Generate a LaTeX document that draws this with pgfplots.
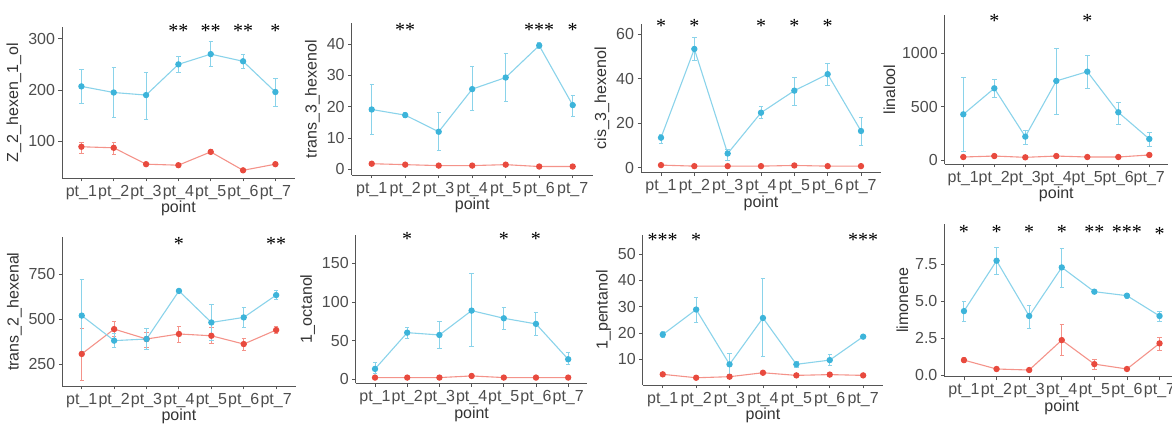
\documentclass[border=0pt]{standalone}
\usepackage{fontspec}
\setmainfont{Liberation Sans}
\newfontfamily\starfont{Liberation Serif}
\usepackage{pgfplots}
\pgfplotsset{compat=1.18}

\definecolor{bline}{HTML}{8AD3EA}
\definecolor{bmark}{HTML}{3DB4DA}
\definecolor{rline}{HTML}{F4938A}
\definecolor{rmark}{HTML}{E84A3E}
\definecolor{axgray}{HTML}{555555}
\definecolor{txtgray}{HTML}{4D4D4D}
\definecolor{ttl}{HTML}{333333}

\pgfplotsset{
  panel/.style={
    scale only axis, anchor=south west, clip=false,
    xmin=0.4, xmax=7.6,
    axis x line*=bottom, axis y line*=left,
    axis line style={axgray, line width=0.9pt},
    tick align=outside, major tick length=3.5pt,
    tick style={axgray, line width=0.9pt},
    xtick={1,...,7},
    xticklabels={pt\_1,pt\_2,pt\_3,pt\_4,pt\_5,pt\_6,pt\_7},
    ticklabel style={font=\fontsize{16}{16}\selectfont, text=txtgray},
    xticklabel style={inner xsep=0pt},
    label style={font=\fontsize{16}{16}\selectfont, text=ttl},
    xlabel={point},
    xlabel style={yshift=5pt},
    /pgf/number format/assume math mode=true,
    /pgf/number format/1000 sep={},
    scaled y ticks=false,
  },
  blue/.style={color=bline, line width=1.1pt, mark=*, mark size=2.6pt,
    mark options={fill=bmark, draw=bmark},
    error bars/.cd, y dir=both, y explicit,
    error bar style={bline, line width=1pt},
    error mark options={bline, line width=1pt, mark size=2.2pt, rotate=90}},
  red/.style={color=rline, line width=1.1pt, mark=*, mark size=2.6pt,
    mark options={fill=rmark, draw=rmark},
    error bars/.cd, y dir=both, y explicit,
    error bar style={rline, line width=1pt},
    error mark options={rline, line width=1pt, mark size=2.2pt, rotate=90}},
  stars/.style={draw=none, mark=none, nodes near coords,
    point meta=explicit symbolic,
    nodes near coords style={anchor=center, inner sep=0pt, yshift=-3pt,
      font=\starfont\fontsize{20}{20}\selectfont, text=black}},
}

\begin{document}
\begin{tikzpicture}
\useasboundingbox (0,0) rectangle (1172pt,428pt);

% ---- row 1 ----
\begin{axis}[panel, at={(62pt,250pt)}, width=232.8pt, height=151pt,
  ymin=28, ymax=323, ytick={100,200,300}, ylabel={Z\_2\_hexen\_1\_ol}]
\addplot[red] table[y error plus=ep, y error minus=em] {
x y ep em
1 89 8 14
2 87 11 13
3 55 2 2
4 53 2 2
5 79 4 4
6 43 2 2
7 55 2 2
};
\addplot[blue] table[y error plus=ep, y error minus=em] {
x y ep em
1 207 32 33
2 195 49 49
3 190 45 48
4 250 16 16
5 270 24 25
6 256 14 14
7 196 26 28
};
\addplot[stars] coordinates {(4,321) [**] (5,321) [**] (6,321) [**] (7,321) [*]};
\end{axis}

\begin{axis}[panel, at={(351.6pt,253pt)}, width=241.2pt, height=151.7pt,
  ymin=-1.8, ymax=46.6, ytick={0,10,20,30,40}, ylabel={trans\_3\_hexenol}]
\addplot[red] table[y error plus=ep, y error minus=em] {
x y ep em
1 1.8 0.3 0.3
2 1.5 0.3 0.3
3 1.2 0.3 0.3
4 1.2 0.3 0.3
5 1.5 0.3 0.3
6 0.9 0.3 0.3
7 0.9 0.3 0.3
};
\addplot[blue] table[y error plus=ep, y error minus=em] {
x y ep em
1 19.1 8.1 8.1
2 17.3 0.9 0.7
3 12.0 6.2 6.0
4 25.6 7.2 6.8
5 29.3 7.7 7.7
6 39.5 1.0 1.0
7 20.5 3.2 3.7
};
\addplot[stars] coordinates {(2,45.5) [**] (6,45.5) [***] (7,45.5) [*]};
\end{axis}

\begin{axis}[panel, at={(641pt,255.3pt)}, width=240pt, height=148.7pt,
  ymin=-2.2, ymax=64.5, ytick={0,20,40,60}, ylabel={cis\_3\_hexenol}]
\addplot[red] table[y error plus=ep, y error minus=em] {
x y ep em
1 1.2 0.3 0.3
2 0.75 0.3 0.3
3 0.75 0.3 0.3
4 0.75 0.3 0.3
5 1.05 0.3 0.3
6 0.75 0.3 0.3
7 0.75 0.3 0.3
};
\addplot[blue] table[y error plus=ep, y error minus=em] {
x y ep em
1 13.5 1.5 2.6
2 53.3 5.2 5.3
3 6.4 1.8 3.0
4 24.7 2.7 2.8
5 34.6 6.0 6.5
6 42.0 4.9 5.3
7 16.5 6.1 6.6
};
\addplot[stars] coordinates {(1,64.8) [*] (2,64.8) [*] (4,64.8) [*] (5,64.8) [*] (6,64.8) [*]};
\end{axis}

\begin{axis}[panel, at={(944.7pt,264pt)}, width=223.2pt, height=149pt,
  ymin=-37.5, ymax=1359, ytick={0,500,1000}, ylabel={linalool}]
\addplot[red] table[y error plus=ep, y error minus=em] {
x y ep em
1 28 8 8
2 37 8 8
3 25 8 8
4 37 8 8
5 28 8 8
6 28 8 8
7 47 10 10
};
\addplot[blue] table[y error plus=ep, y error minus=em] {
x y ep em
1 428 344 350
2 672 84 84
3 219 53 78
4 741 306 319
5 828 156 156
6 447 94 110
7 197 59 66
};
\addplot[stars] coordinates {(2,1328) [*] (5,1328) [*]};
\end{axis}

% ---- row 2 ----
\begin{axis}[panel, at={(62.3pt,42pt)}, width=233.3pt, height=148.7pt,
  ymin=128, ymax=954, ytick={250,500,750}, ylabel={trans\_2\_hexenal}]
\addplot[red] table[y error plus=ep, y error minus=em] {
x y ep em
1 306 142 145
2 444 45 42
3 389 35 45
4 417 40 47
5 407 47 42
6 361 32 37
7 439 22 22
};
\addplot[blue] table[y error plus=ep, y error minus=em] {
x y ep em
1 519 198 198
2 380 37 37
3 389 59 58
4 656 9 8
5 481 100 101
6 509 54 55
7 633 24 24
};
\addplot[stars] coordinates {(4,935) [*] (7,935) [**]};
\end{axis}

\begin{axis}[panel, at={(355.7pt,44.7pt)}, width=231.8pt, height=148.3pt,
  ymin=-5.2, ymax=186.6, ytick={0,50,100,150}, ylabel={1\_octanol}]
\addplot[red] table[y error plus=ep, y error minus=em] {
x y ep em
1 2.2 0.5 0.5
2 2.2 0.5 0.5
3 2.2 0.5 0.5
4 4.3 0.8 0.8
5 2.2 0.5 0.5
6 2.2 0.5 0.5
7 2.2 0.5 0.5
};
\addplot[blue] table[y error plus=ep, y error minus=em] {
x y ep em
1 13.4 8.2 6.5
2 60.3 6.7 7.3
3 57.3 17.2 17.3
4 88.8 48 47
5 78.9 13.8 15.1
6 71.6 14.4 15.6
7 25.9 8.6 7.4
};
\addplot[stars] coordinates {(2,186) [*] (5,186) [*] (6,186) [*]};
\end{axis}

\begin{axis}[panel, at={(642.7pt,43pt)}, width=240.5pt, height=150pt,
  ymin=0.25, ymax=57.2, ytick={10,20,30,40,50}, ylabel={1\_pentanol}]
\addplot[red] table[y error plus=ep, y error minus=em] {
x y ep em
1 4.3 0.4 0.4
2 3.0 0.4 0.4
3 3.4 0.4 0.4
4 4.9 0.4 0.4
5 3.9 0.4 0.4
6 4.2 0.4 0.4
7 3.9 0.4 0.4
};
\addplot[blue] table[y error plus=ep, y error minus=em] {
x y ep em
1 19.4 1.2 1.3
2 28.9 4.4 4.8
3 8.1 4.2 4.0
4 25.7 14.9 14.7
5 8.1 1.0 1.1
6 9.7 2.2 2.2
7 18.6 0.5 0.5
};
\addplot[stars] coordinates {(1,56.3) [***] (2,56.3) [*] (7,56.3) [***]};
\end{axis}

\begin{axis}[panel, at={(944.4pt,51.3pt)}, width=234.7pt, height=152.7pt,
  ymin=-0.11, ymax=10.2, ytick={0,2.5,5,7.5}, ylabel={limonene},
  yticklabel style={/pgf/number format/.cd, fixed, fixed zerofill, precision=1}]
\addplot[red] table[y error plus=ep, y error minus=em] {
x y ep em
1 1.01 0.16 0.15
2 0.41 0.05 0.05
3 0.34 0.05 0.05
4 2.36 1.06 1.05
5 0.74 0.32 0.36
6 0.41 0.05 0.05
7 2.14 0.41 0.50
};
\addplot[blue] table[y error plus=ep, y error minus=em] {
x y ep em
1 4.32 0.68 0.72
2 7.72 0.88 0.96
3 3.99 0.74 0.84
4 7.27 1.29 1.35
5 5.63 0.07 0.07
6 5.36 0.14 0.16
7 3.99 0.31 0.39
};
\addplot[stars] coordinates {(1,9.86) [*] (2,9.86) [*] (3,9.86) [*] (4,9.86) [*] (5,9.86) [**] (6,9.86) [***] (7,9.75) [*]};
\end{axis}
\end{tikzpicture}
\end{document}
